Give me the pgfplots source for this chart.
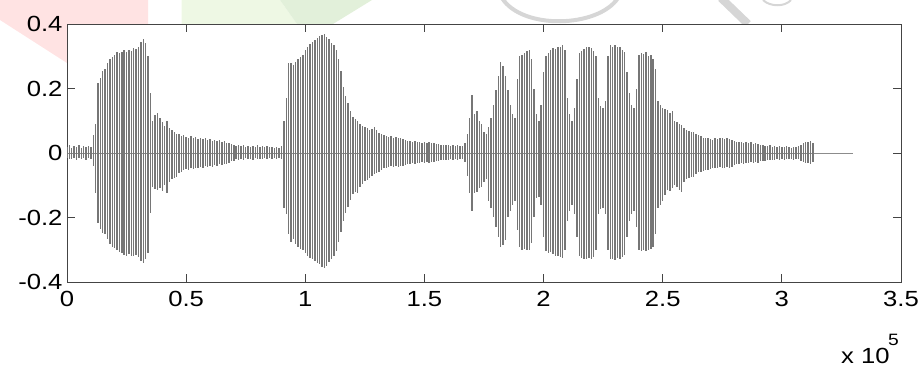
\documentclass[border=0pt]{standalone}
\usepackage{fontspec}
\setmainfont{Liberation Sans}[FakeStretch=1.17]
\usepackage{pgfplots}
\usepackage{pgfplotstable}
\pgfplotsset{compat=1.18}
\definecolor{wmpink}{HTML}{FFE3E3}
\definecolor{wmgreenA}{HTML}{EEF8E4}
\definecolor{wmgreenB}{HTML}{E2F0DA}
\definecolor{wmgray}{HTML}{D6D6D6}
\definecolor{axcol}{HTML}{444444}
\definecolor{wavecol}{HTML}{767676}

\pgfplotstableread{
x hi lo
0.00 0.018 -0.015
0.01 0.024 -0.020
0.02 0.016 -0.018
0.03 0.022 -0.014
0.04 0.019 -0.021
0.05 0.025 -0.017
0.06 0.015 -0.019
0.07 0.021 -0.016
0.08 0.018 -0.022
0.09 0.023 -0.015
0.10 0.020 -0.020
0.11 0.056 -0.040
0.12 0.090 -0.125
0.13 0.216 -0.218
0.14 0.232 -0.235
0.15 0.255 -0.248
0.16 0.262 -0.252
0.17 0.278 -0.268
0.18 0.290 -0.282
0.19 0.298 -0.290
0.20 0.305 -0.296
0.21 0.312 -0.300
0.22 0.310 -0.306
0.23 0.314 -0.311
0.24 0.318 -0.315
0.25 0.312 -0.318
0.26 0.320 -0.312
0.27 0.316 -0.320
0.28 0.325 -0.318
0.29 0.322 -0.316
0.30 0.328 -0.322
0.31 0.345 -0.335
0.32 0.352 -0.342
0.33 0.340 -0.330
0.34 0.300 -0.310
0.35 0.185 -0.187
0.36 0.100 -0.104
0.37 0.118 -0.112
0.38 0.123 -0.115
0.39 0.110 -0.108
0.40 0.095 -0.118
0.41 0.085 -0.100
0.42 0.100 -0.125
0.43 0.078 -0.090
0.44 0.070 -0.082
0.45 0.065 -0.078
0.46 0.060 -0.073
0.47 0.058 -0.062
0.48 0.052 -0.058
0.49 0.055 -0.054
0.50 0.050 -0.050
0.51 0.048 -0.052
0.52 0.052 -0.047
0.53 0.046 -0.050
0.54 0.050 -0.045
0.55 0.044 -0.048
0.56 0.047 -0.044
0.57 0.042 -0.046
0.58 0.045 -0.041
0.59 0.040 -0.043
0.60 0.042 -0.040
0.61 0.038 -0.042
0.62 0.041 -0.037
0.63 0.036 -0.040
0.64 0.039 -0.035
0.65 0.034 -0.038
0.66 0.037 -0.033
0.67 0.032 -0.035
0.68 0.030 -0.030
0.69 0.028 -0.026
0.70 0.025 -0.024
0.71 0.022 -0.020
0.72 0.026 -0.021
0.73 0.021 -0.018
0.74 0.024 -0.022
0.75 0.020 -0.017
0.76 0.023 -0.020
0.77 0.019 -0.018
0.78 0.022 -0.021
0.79 0.020 -0.016
0.80 0.024 -0.019
0.81 0.018 -0.018
0.82 0.021 -0.020
0.83 0.019 -0.016
0.84 0.023 -0.019
0.85 0.018 -0.017
0.86 0.020 -0.020
0.87 0.017 -0.016
0.88 0.019 -0.018
0.89 0.016 -0.015
0.90 0.022 -0.020
0.91 0.100 -0.170
0.92 0.170 -0.190
0.93 0.280 -0.250
0.94 0.278 -0.275
0.95 0.272 -0.268
0.96 0.282 -0.282
0.97 0.290 -0.290
0.98 0.298 -0.298
0.99 0.305 -0.300
1.00 0.318 -0.310
1.01 0.330 -0.318
1.02 0.338 -0.325
1.03 0.345 -0.330
1.04 0.350 -0.336
1.05 0.358 -0.340
1.06 0.362 -0.345
1.07 0.365 -0.352
1.08 0.368 -0.357
1.09 0.360 -0.350
1.10 0.352 -0.338
1.11 0.342 -0.330
1.12 0.335 -0.318
1.13 0.318 -0.305
1.14 0.290 -0.275
1.15 0.255 -0.245
1.16 0.205 -0.210
1.17 0.178 -0.185
1.18 0.154 -0.166
1.19 0.130 -0.145
1.20 0.112 -0.128
1.21 0.105 -0.122
1.22 0.100 -0.125
1.23 0.090 -0.105
1.24 0.085 -0.095
1.25 0.080 -0.088
1.26 0.076 -0.084
1.27 0.070 -0.078
1.28 0.074 -0.070
1.29 0.080 -0.066
1.30 0.072 -0.063
1.31 0.062 -0.058
1.32 0.058 -0.052
1.33 0.055 -0.048
1.34 0.052 -0.045
1.35 0.050 -0.043
1.36 0.053 -0.041
1.37 0.048 -0.044
1.38 0.050 -0.040
1.39 0.046 -0.042
1.40 0.048 -0.039
1.41 0.044 -0.040
1.42 0.040 -0.036
1.43 0.037 -0.034
1.44 0.036 -0.033
1.45 0.034 -0.031
1.46 0.037 -0.033
1.47 0.033 -0.030
1.48 0.035 -0.032
1.49 0.032 -0.029
1.50 0.034 -0.031
1.51 0.031 -0.028
1.52 0.033 -0.030
1.53 0.030 -0.027
1.54 0.032 -0.029
1.55 0.029 -0.026
1.56 0.027 -0.024
1.57 0.025 -0.023
1.58 0.026 -0.022
1.59 0.024 -0.021
1.60 0.025 -0.023
1.61 0.023 -0.020
1.62 0.025 -0.022
1.63 0.022 -0.019
1.64 0.024 -0.021
1.65 0.021 -0.020
1.66 0.023 -0.018
1.67 0.030 -0.028
1.68 0.060 -0.070
1.69 0.110 -0.125
1.70 0.180 -0.180
1.71 0.120 -0.125
1.72 0.130 -0.120
1.73 0.100 -0.110
1.74 0.090 -0.105
1.75 0.065 -0.090
1.76 0.060 -0.080
1.77 0.080 -0.150
1.78 0.110 -0.170
1.79 0.150 -0.200
1.80 0.195 -0.230
1.81 0.240 -0.260
1.82 0.283 -0.290
1.83 0.270 -0.285
1.84 0.240 -0.270
1.85 0.195 -0.200
1.86 0.150 -0.180
1.87 0.120 -0.160
1.88 0.110 -0.150
1.89 0.230 -0.240
1.90 0.300 -0.290
1.91 0.305 -0.300
1.92 0.310 -0.298
1.93 0.315 -0.302
1.94 0.320 -0.300
1.95 0.290 -0.280
1.96 0.200 -0.200
1.97 0.120 -0.140
1.98 0.100 -0.135
1.99 0.150 -0.160
2.00 0.250 -0.260
2.01 0.300 -0.305
2.02 0.310 -0.310
2.03 0.318 -0.308
2.04 0.325 -0.312
2.05 0.322 -0.318
2.06 0.330 -0.320
2.07 0.328 -0.322
2.08 0.335 -0.327
2.09 0.320 -0.300
2.10 0.170 -0.210
2.11 0.120 -0.180
2.12 0.100 -0.160
2.13 0.140 -0.190
2.14 0.230 -0.260
2.15 0.310 -0.320
2.16 0.315 -0.325
2.17 0.322 -0.328
2.18 0.330 -0.330
2.19 0.328 -0.326
2.20 0.325 -0.330
2.21 0.315 -0.322
2.22 0.300 -0.300
2.23 0.170 -0.190
2.24 0.145 -0.175
2.25 0.140 -0.170
2.26 0.160 -0.190
2.27 0.300 -0.300
2.28 0.335 -0.330
2.29 0.330 -0.328
2.30 0.334 -0.332
2.31 0.328 -0.325
2.32 0.330 -0.330
2.33 0.318 -0.322
2.34 0.312 -0.315
2.35 0.250 -0.260
2.36 0.185 -0.210
2.37 0.150 -0.190
2.38 0.140 -0.180
2.39 0.200 -0.230
2.40 0.305 -0.300
2.41 0.310 -0.305
2.42 0.308 -0.300
2.43 0.312 -0.305
2.44 0.300 -0.302
2.45 0.305 -0.298
2.46 0.290 -0.290
2.47 0.260 -0.250
2.48 0.160 -0.170
2.49 0.150 -0.160
2.50 0.140 -0.150
2.51 0.135 -0.130
2.52 0.133 -0.115
2.53 0.125 -0.118
2.54 0.130 -0.110
2.55 0.100 -0.100
2.56 0.095 -0.105
2.57 0.090 -0.115
2.58 0.087 -0.120
2.59 0.078 -0.090
2.60 0.072 -0.080
2.61 0.068 -0.078
2.62 0.066 -0.074
2.63 0.066 -0.073
2.64 0.060 -0.065
2.65 0.055 -0.060
2.66 0.052 -0.058
2.67 0.048 -0.055
2.68 0.046 -0.054
2.69 0.045 -0.053
2.70 0.044 -0.050
2.71 0.040 -0.047
2.72 0.046 -0.045
2.73 0.042 -0.048
2.74 0.045 -0.044
2.75 0.048 -0.046
2.76 0.043 -0.045
2.77 0.046 -0.043
2.78 0.044 -0.047
2.79 0.040 -0.042
2.80 0.037 -0.038
2.81 0.035 -0.035
2.82 0.033 -0.033
2.83 0.035 -0.031
2.84 0.031 -0.034
2.85 0.034 -0.030
2.86 0.030 -0.032
2.87 0.033 -0.029
2.88 0.029 -0.031
2.89 0.032 -0.028
2.90 0.028 -0.030
2.91 0.026 -0.026
2.92 0.025 -0.024
2.93 0.023 -0.025
2.94 0.022 -0.022
2.95 0.024 -0.023
2.96 0.020 -0.021
2.97 0.022 -0.022
2.98 0.019 -0.020
2.99 0.021 -0.023
3.00 0.020 -0.019
3.01 0.018 -0.021
3.02 0.021 -0.018
3.03 0.019 -0.020
3.04 0.017 -0.019
3.05 0.020 -0.022
3.06 0.018 -0.018
3.07 0.022 -0.020
3.08 0.025 -0.024
3.09 0.030 -0.028
3.10 0.035 -0.032
3.11 0.033 -0.030
3.12 0.036 -0.033
3.13 0.030 -0.028
}\wave

\begin{document}
\begin{tikzpicture}
\useasboundingbox (0,0) rectangle (920bp,-366bp);
% faint watermark shapes behind the chart
\fill[wmpink] (0bp,0bp) -- (148bp,0bp) -- (148bp,-115bp) -- (0bp,-20bp) -- cycle;
\fill[wmgreenA] (181.7bp,0bp) -- (280bp,0bp) -- (297bp,-24bp) -- (181.7bp,-24bp) -- cycle;
\fill[wmgreenB] (280bp,0bp) -- (372bp,0bp) -- (333bp,-24bp) -- (297bp,-24bp) -- cycle;
\draw[wmgray, line width=4bp] (502bp,2bp) .. controls (522bp,-30bp) and (598bp,-28bp) .. (618bp,2bp);
\draw[wmgray, line width=8bp] (721bp,2bp) -- (748bp,-24bp);
\draw[wmgray, line width=2bp] (763bp,0bp) .. controls (770bp,-7bp) and (785bp,-7bp) .. (791bp,0bp);
\begin{axis}[
  at={(67bp,-24bp)}, anchor=north west,
  width=834bp, height=258bp, scale only axis,
  xmin=0, xmax=3.5, ymin=-0.4, ymax=0.4,
  xtick={0,0.5,1,1.5,2,2.5,3,3.5},
  xticklabels={0,0.5,1,1.5,2,2.5,3,3.5},
  ytick={-0.4,-0.2,0,0.2,0.4},
  yticklabels={-0.4,-0.2,0,0.2,0.4},
  tick align=inside,
  major tick length=8bp,
  axis line style={axcol, line width=0.8bp},
  tick style={axcol, line width=0.8bp},
  ticklabel style={font=\fontsize{22}{26}\selectfont, text=black},
  xticklabel style={yshift=-6bp},
  yticklabel style={xshift=-1bp},
  axis background/.style={fill=white},
]
\addplot[black!45, line width=0.5bp] coordinates {(0,0) (3.30,0)};
\addplot[ycomb, wavecol, line width=1.4bp] table[x=x, y=hi] {\wave};
\addplot[ycomb, wavecol, line width=1.4bp] table[x=x, y=lo] {\wave};
\end{axis}
\node[anchor=base west, inner sep=0pt, font=\fontsize{22}{26}\selectfont] at (841bp,-363bp) {x 10};
\node[anchor=base west, inner sep=0pt, font=\fontsize{16.5}{20}\selectfont] at (888bp,-345bp) {5};
\end{tikzpicture}
\end{document}
